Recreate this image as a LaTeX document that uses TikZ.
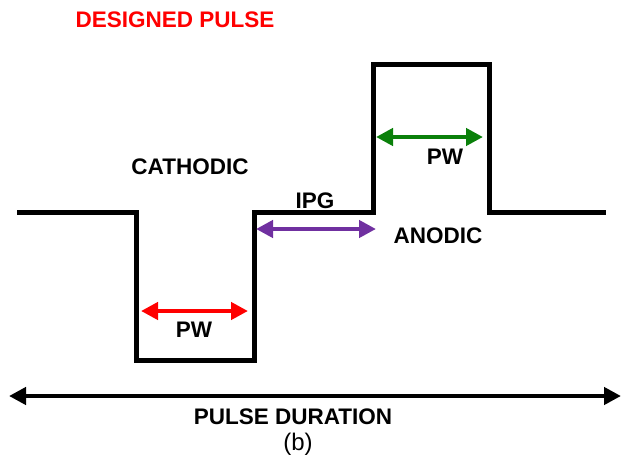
\documentclass[tikz,border=0pt]{standalone}
\usepackage{fontspec}
\setmainfont{Liberation Sans}
\usepackage{tikz}
\usetikzlibrary{arrows.meta, positioning}
\definecolor{pulsered}{HTML}{FF0000}
\definecolor{ipgpurple}{HTML}{7030A0}
\definecolor{pwgreen}{HTML}{0A800A}
\tikzset{
  wave/.style={
    line width=5pt, line join=miter, color=black
  },
  dimarrow/.style={
    {Triangle[length=17pt,width=17pt]}-{Triangle[length=17pt,width=17pt]},
    line width=4.5pt
  },
  lbl/.style={
    font=\fontsize{22.5}{26}\selectfont\bfseries, inner sep=0pt
  }
}

\begin{document}
\begin{tikzpicture}[x=1pt, y=-1pt]

  \useasboundingbox (0,0) rectangle (621,463);

  % ── Waveform corners ─────────────────────────────────────────────────
  \coordinate (w0) at (17,212);
  \coordinate (c1) at (136,212);
  \coordinate (c2) at (136,360);
  \coordinate (c3) at (254,360);
  \coordinate (g1) at (254,212);
  \coordinate (g2) at (373,212);
  \coordinate (a1) at (373,64);
  \coordinate (a2) at (489,64);
  \coordinate (a3) at (489,212);
  \coordinate (w1) at (606,212);

  \draw[wave] (w0) -- (c1) -- (c2) -- (c3) -- (g1) -- (g2)
              -- (a1) -- (a2) -- (a3) -- (w1);

  % ── Dimension arrows ──────────────────────────────────────────────────
  \coordinate (cpwl) at (141,311);
  \coordinate (cpwr) at (248,311);
  \coordinate (ipgl) at (256,229);
  \coordinate (ipgr) at (376,229);
  \coordinate (apwl) at (376,137);
  \coordinate (apwr) at (483,137);
  \coordinate (durl) at (9,396);
  \coordinate (durr) at (621,396);

  \draw[dimarrow, pulsered]  (cpwl) -- (cpwr);
  \draw[dimarrow, ipgpurple] (ipgl) -- (ipgr);
  \draw[dimarrow, pwgreen]   (apwl) -- (apwr);
  \draw[dimarrow, black]     (durl) -- (durr);

  % ── Labels ────────────────────────────────────────────────────────────
  \node[lbl, text=pulsered] (title)    at (175,20)  {DESIGNED PULSE};
  \node[lbl]                (cathodic) at (190,167) {CATHODIC};
  \node[lbl]                (cpw)      at (194,330) {PW};
  \node[lbl]                (ipg)      at (315,201) {IPG};
  \node[lbl]                (anodic)   at (438,236) {ANODIC};
  \node[lbl]                (apw)      at (445,157) {PW};
  \node[lbl]                (duration) at (293,417) {PULSE DURATION};
  \node[font=\fontsize{24}{28}\selectfont, inner sep=0pt]
                            (sub)      at (298,444) {(b)};

\end{tikzpicture}
\end{document}
